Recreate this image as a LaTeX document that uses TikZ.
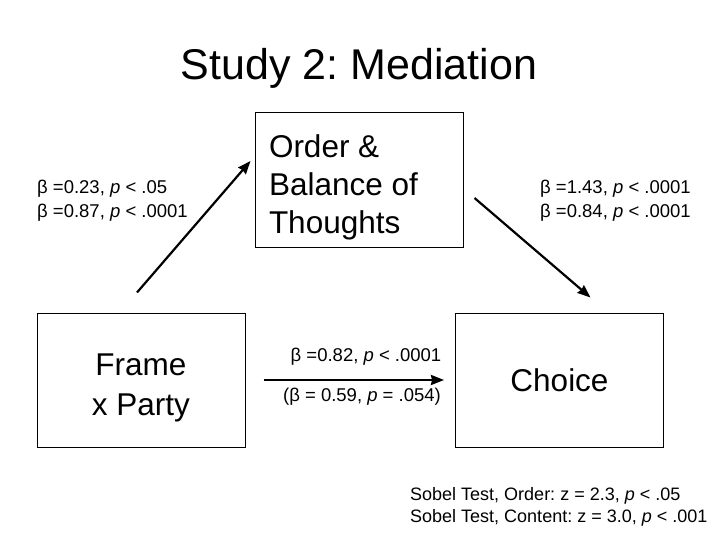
\documentclass[tikz,border=0pt]{standalone}
\usepackage{fontspec}
\setmainfont{Liberation Sans}
\usetikzlibrary{positioning}
\usetikzlibrary{calc}
\usetikzlibrary{arrows.meta}
\frenchspacing
\tikzset{
    % Filled arrow heads like the slide
    >={Stealth[length=13pt, width=10pt, inset=1pt]},
%
    % Boxes around the three variables
    var box/.style={draw, line width=1pt, minimum width=208pt,
        minimum height=134pt, inner sep=0pt},
%
    % Path arrows
    path arrow/.style={->, line width=2.2pt},
%
    % Coefficient labels
    coef/.style={font=\fontsize{18.5}{24}\selectfont, inner sep=0pt}}

\begin{document}
\begin{tikzpicture}[x=1pt, y=-1pt]
\useasboundingbox (0,0) rectangle (720,540);

% Title
\node[font=\fontsize{43}{50}\selectfont] (title) at (359,68) {Study 2: Mediation};

% Mediator, predictor and outcome
\node[var box, font=\fontsize{31.5}{38}\selectfont] at (359,180) (order)
    {\raisebox{-14pt}[0pt][0pt]{\parbox{180pt}{Order \&\\Balance of\\Thoughts}}};
\node[var box, font=\fontsize{31.5}{40}\selectfont] at (141,380) (frame)
    {\raisebox{-14pt}[0pt][0pt]{\parbox{180pt}{\centering Frame\\x Party}}};
\node[var box, font=\fontsize{31.5}{38}\selectfont]
    at (559.5,380) (choice) {Choice};

% Paths
\draw[path arrow] ($(frame.north)+(-4,-20)$) -- ($(order.west)+(-4,-19)$);
\draw[path arrow] ($(order.east)+(11,18)$) -- ($(choice.north)+(31,-15)$);
\draw[path arrow] ($(frame.east)+(18,0)$) -- ($(choice.west)+(-11,0)$);

% Coefficients
\node[coef, align=left, anchor=west] at (37,201) (a path)
    {β =0.23, \textit{p} < .05\\β =0.87, \textit{p} < .0001};
\node[coef, align=left, anchor=west] at (540,201) (b path)
    {β =1.43, \textit{p} < .0001\\β =0.84, \textit{p} < .0001};
\node[coef] at (366,357) (c path) {β =0.82, \textit{p} < .0001};
\node[coef] at (362,397) (c prime) {(β = 0.59, \textit{p} = .054)};

% Sobel tests
\node[coef, align=left, anchor=west, font=\fontsize{18}{22}\selectfont]
    at (410,507) (sobel)
    {Sobel Test, Order: z = 2.3, \textit{p} < .05\\
     Sobel Test, Content: z = 3.0, \textit{p} < .001};
\end{tikzpicture}
\end{document}
